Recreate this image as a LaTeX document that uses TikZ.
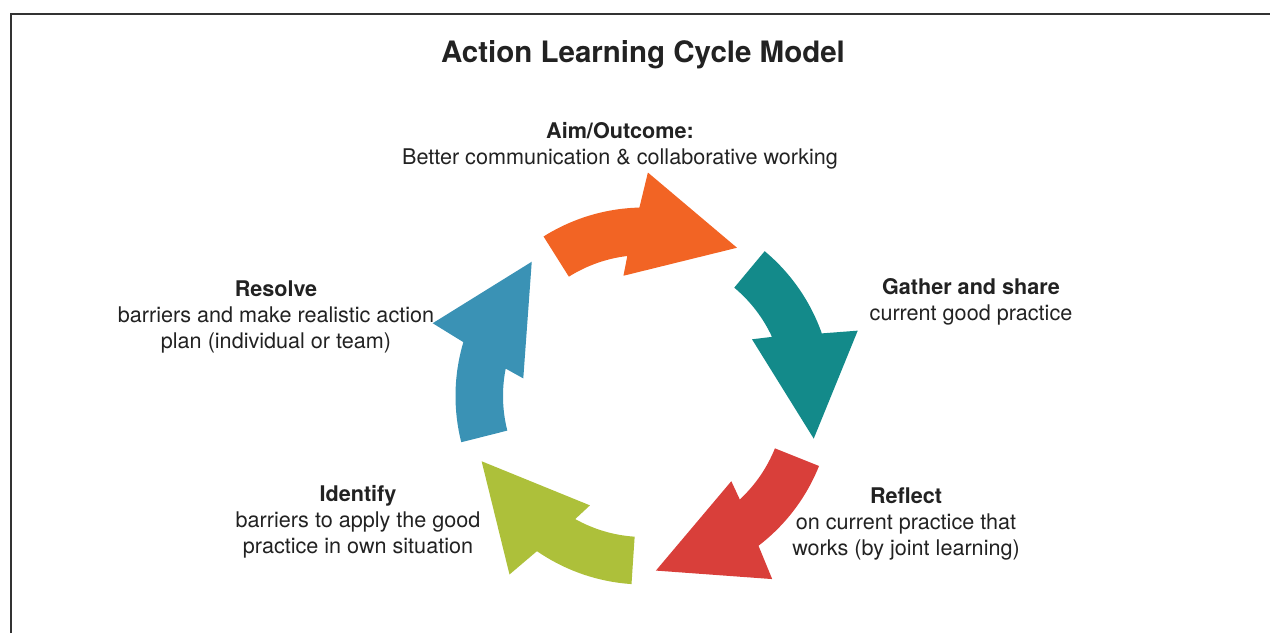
\documentclass[tikz,border=0pt]{standalone}
\usepackage{fontspec}
\setmainfont{TeX Gyre Heros}
\definecolor{ink}{HTML}{222222}
\definecolor{framegray}{HTML}{333333}
\definecolor{aimc}{HTML}{F26424}
\definecolor{gatherc}{HTML}{138A8A}
\definecolor{reflectc}{HTML}{D93F3A}
\definecolor{identc}{HTML}{ADC03A}
\definecolor{resolvec}{HTML}{3A92B5}
\begin{document}
\begin{tikzpicture}[x=1pt,y=1pt,
    every node/.style={text=ink, align=center, inner sep=0pt,
      font=\fontsize{21.6}{26}\selectfont}]
  \useasboundingbox (0,0) rectangle (1270,633);
  \draw[framegray, line width=2.5pt] (11,0) -- (11,619) -- (1270,619);

  \node (title) at (643,578) {\fontsize{29.5}{34}\selectfont\bfseries Action Learning Cycle Model};
  \node (aim) at (620,487.5) {\textbf{Aim/Outcome:}\\Better communication \& collaborative working};
  \node (gather) at (971,331.5) {\textbf{Gather and share}\\current good practice};
  \node (reflect) at (906,109) {\textbf{Reflect}\\on current practice that\\works (by joint learning)};
  \node (identify) at (358,111.5) {\textbf{Identify}\\barriers to apply the good\\practice in own situation};
  \node (resolve) at (276,316.5) {\textbf{Resolve}\\barriers and make realistic action\\plan (individual or team)};

  % cycle arrows, one shape turned by 72 degrees each
  \begin{scope}[shift={(644,237)}]
    \foreach \rot/\col in {0/aimc, -72/gatherc, -144/reflectc, -216/identc, -288/resolvec}
      \fill[\col, rotate=\rot] (122.2:188.5) arc[start angle=122.2, end angle=91.4, radius=188.5]
        -- (89:223.5) -- (57.9:175) -- (99.7:122) -- (96.8:141)
        arc[start angle=96.8, end angle=122.2, radius=141] -- cycle;
  \end{scope}
\end{tikzpicture}
\end{document}
